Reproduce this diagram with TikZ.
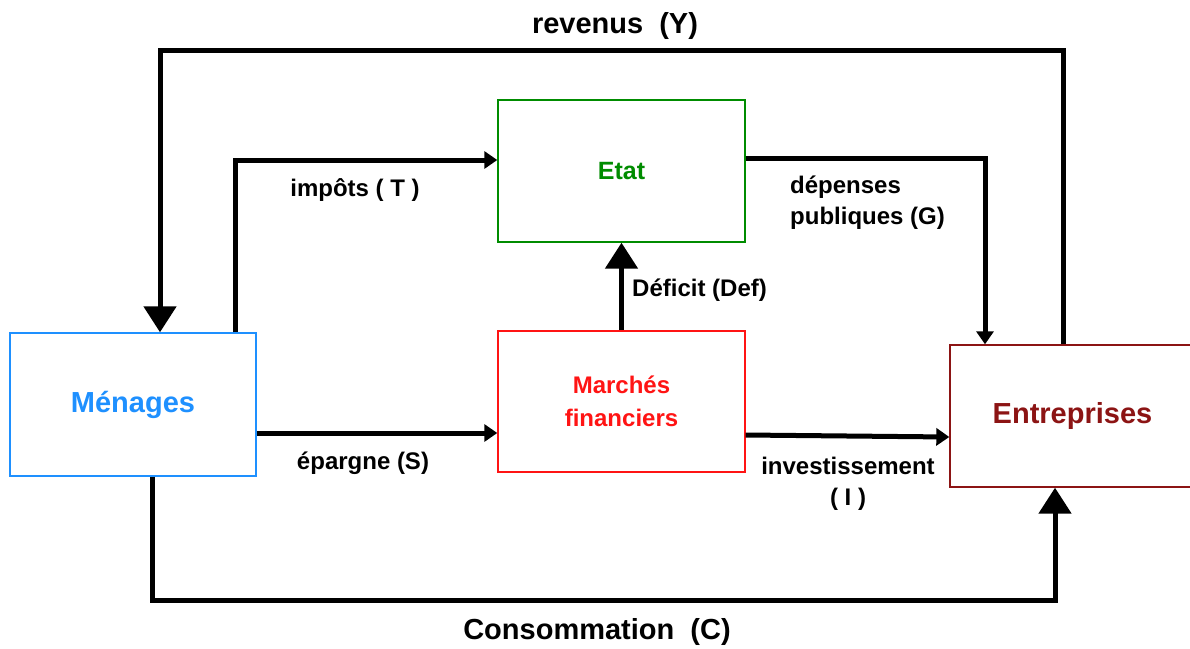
\documentclass[tikz,border=0pt]{standalone}
\usepackage{fontspec}
\setmainfont{Liberation Sans}
\usetikzlibrary{arrows.meta}
\definecolor{menblue}{RGB}{30,144,255}
\definecolor{etatgreen}{RGB}{0,140,0}
\definecolor{mfred}{RGB}{255,20,20}
\definecolor{entred}{RGB}{140,20,20}
\begin{document}
\begin{tikzpicture}[x=1pt,y=-1pt,
  box/.style={draw,line width=1.4pt,fill=white,inner sep=0pt,align=center,font=\bfseries},
  flow/.style={line width=5pt},
  bigtip/.style={flow,-{Triangle[width=32pt,length=26pt]}},
  smalltip/.style={flow,-{Triangle[width=17pt,length=13pt]}},
  lab/.style={font=\fontsize{24}{31}\selectfont\bfseries,align=left,inner sep=0pt},
  title/.style={font=\fontsize{29}{34}\selectfont\bfseries,inner sep=0pt}]
\useasboundingbox (0,0) rectangle (1190,648);
\begin{scope}
\clip (0,0) rectangle (1190,648);
\node[box,draw=menblue,text=menblue,minimum width=246pt,minimum height=143pt,font=\fontsize{29}{34}\selectfont\bfseries] (men) at (133,404.5) {Ménages};
\node[box,draw=etatgreen,text=etatgreen,minimum width=247pt,minimum height=142pt,font=\fontsize{25}{30}\selectfont\bfseries] (etat) at (621.5,171) {Etat};
\node[box,draw=mfred,text=mfred,minimum width=247pt,minimum height=141pt,font=\fontsize{24}{33}\selectfont\bfseries] (mf) at (621.5,401.5) {Marchés\\financiers};
\node[box,draw=entred,text=entred,minimum width=245pt,minimum height=142pt,font=\fontsize{29}{34}\selectfont\bfseries] (ent) at (1072.5,416) {Entreprises};
\end{scope}

\coordinate (ytop) at (0,50);
\coordinate (yimp) at (0,160);
\coordinate (xdep) at (985,0);
\coordinate (ybot) at (0,600);

% revenus
\draw[bigtip] ([xshift=-9.5pt]ent.north) -- ([xshift=-9.5pt]ent.north |- ytop) -| ([xshift=27pt]men.north);
% impots
\draw[smalltip] ([xshift=102pt]men.north) |- (etat.west |- yimp);
% depenses
\draw[smalltip] ([yshift=13pt]etat.east) -| (ent.north -| xdep);
% deficit
\draw[bigtip] (mf.north) -- (etat.south);
% epargne
\draw[smalltip] ([yshift=-28.5pt]men.east) -- ([yshift=-31.5pt]mf.west);
% investissement
\draw[smalltip] ([yshift=-33.5pt]mf.east) -- ([yshift=-21pt]ent.west);
% consommation
\draw[bigtip] ([xshift=19pt]men.south) -- ([xshift=19pt]men.south |- ybot) -| ([xshift=-17.5pt]ent.south);

\node[title] (trev) at (615,26) {revenus\ \ (Y)};
\node[title] (tcons) at (597,632) {Consommation\ \ (C)};
\node[lab] (limp) at (355,190) {impôts ( T )};
\node[lab,anchor=west] (ldep) at (790,203) {dépenses\\publiques (G)};
\node[lab,anchor=west] (ldef) at (632,290) {Déficit (Def)};
\node[lab] (lepa) at (363,463) {épargne (S)};
\node[lab,align=center] (linv) at (848,484) {investissement\\( I )};
\end{tikzpicture}
\end{document}
